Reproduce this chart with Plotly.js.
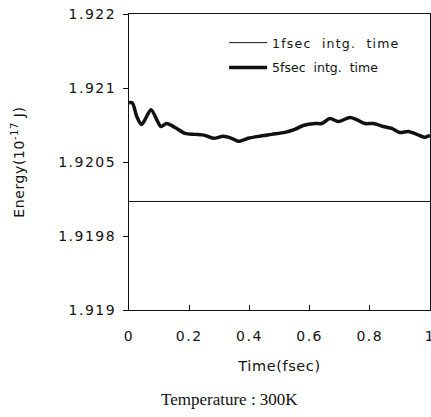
<!DOCTYPE html>
<html>
<head>
<meta charset="utf-8">
<script src="https://cdn.plot.ly/plotly-3.0.1.min.js"></script>
<style>
  html, body { margin: 0; padding: 0; background: #fff; }
  #chart { width: 431px; height: 417px; }
  .xtick text, .ytick text { letter-spacing: 1.5px; }
  .legendtext { letter-spacing: 1.2px; }
  .g-xtitle text, .g-ytitle text { letter-spacing: 0.6px; }
</style>
</head>
<body>
<div id="chart"></div>
<script>
// Time axis (fsec)
const timeThin = [0, 1];
const energyThin = [1.92010, 1.92010];

const time5 = [0, 0.011, 0.026, 0.042, 0.073, 0.092, 0.106, 0.125, 0.153, 0.186,
               0.219, 0.252, 0.280, 0.313, 0.341, 0.363, 0.396, 0.430, 0.474, 0.518,
               0.551, 0.579, 0.618, 0.640, 0.668, 0.695, 0.734, 0.756, 0.784, 0.812,
               0.845, 0.873, 0.900, 0.928, 0.956, 0.983, 1.0];
const energy5 = [1.92110, 1.92110, 1.92096, 1.92088, 1.92103, 1.92093, 1.92086, 1.92089, 1.92085, 1.92079,
                 1.92078, 1.92077, 1.92074, 1.92076, 1.92074, 1.92071, 1.92074, 1.92076, 1.92078, 1.92080,
                 1.92083, 1.92087, 1.92089, 1.92089, 1.92094, 1.92091, 1.92095, 1.92093, 1.92089, 1.92089,
                 1.92086, 1.92084, 1.92080, 1.92081, 1.92078, 1.92075, 1.92077];

const xTickVals = [0, 0.2, 0.4, 0.6, 0.8, 1];
const xTickText = ['0', '0.2', '0.4', '0.6', '0.8', '1'];
const yTickVals = [1.919, 1.91975, 1.9205, 1.92125, 1.922];
const yTickText = ['1.919', '1.9198', '1.9205', '1.921', '1.922'];

const labelThin = '1fsec  intg.  time';
const label5 = '5fsec  intg.  time';
const xTitle = 'Time(fsec)';
const yTitle = 'Energy(10<sup>-17</sup> J)';
const caption = 'Temperature : 300K';

const sans = 'DejaVu Sans, sans-serif';

const traces = [
  { x: timeThin, y: energyThin, type: 'scatter', mode: 'lines', name: labelThin,
    line: { color: '#111', width: 1 }, legend: 'legend' },
  { x: time5, y: energy5, type: 'scatter', mode: 'lines', name: label5,
    line: { color: '#111', width: 3.5, shape: 'spline', smoothing: 0.8 }, legend: 'legend2' }
];

const layout = {
  width: 431, height: 417,
  margin: { l: 129, r: 1, t: 14, b: 107 },
  paper_bgcolor: '#fff', plot_bgcolor: '#fff',
  showlegend: true,
  font: { family: sans, color: '#111', size: 14 },
  xaxis: {
    range: [0, 1], tickvals: xTickVals, ticktext: xTickText,
    ticks: 'inside', ticklen: 5, tickcolor: '#111', tickwidth: 1,
    showline: true, linecolor: '#111', linewidth: 1, mirror: true,
    showgrid: false, zeroline: false,
    tickfont: { family: sans, size: 14, color: '#111' },
    ticklabelstandoff: 13, ticklabeloverflow: 'allow',
    title: { text: xTitle, font: { family: sans, size: 14.5, color: '#111' }, standoff: 18 }
  },
  yaxis: {
    range: [1.919, 1.922], tickvals: yTickVals, ticktext: yTickText,
    ticks: 'outside', ticklen: 5, tickcolor: '#111', tickwidth: 1,
    showline: true, linecolor: '#111', linewidth: 1, mirror: true,
    showgrid: false, zeroline: false,
    tickfont: { family: sans, size: 14, color: '#111' },
    ticklabelstandoff: 4,
    title: { text: yTitle, font: { family: sans, size: 14, color: '#111' }, standoff: 30 }
  },
  legend: {
    x: 0.316, xanchor: 'left', y: 0.902, yanchor: 'middle',
    bgcolor: 'rgba(0,0,0,0)', borderwidth: 0, itemwidth: 38,
    font: { family: sans, size: 12.5, color: '#111' }
  },
  legend2: {
    x: 0.316, xanchor: 'left', y: 0.8176, yanchor: 'middle',
    bgcolor: 'rgba(0,0,0,0)', borderwidth: 0, itemwidth: 38,
    font: { family: sans, size: 12.5, color: '#111' }
  },
  annotations: [
    { text: caption, xref: 'paper', yref: 'paper', x: 0.3355, y: -0.304,
      xanchor: 'center', yanchor: 'middle', showarrow: false,
      font: { family: 'Liberation Serif, DejaVu Serif, serif', size: 17, color: '#111' } }
  ]
};

Plotly.newPlot('chart', traces, layout, { displayModeBar: false, staticPlot: true });
</script>
</body>
</html>
